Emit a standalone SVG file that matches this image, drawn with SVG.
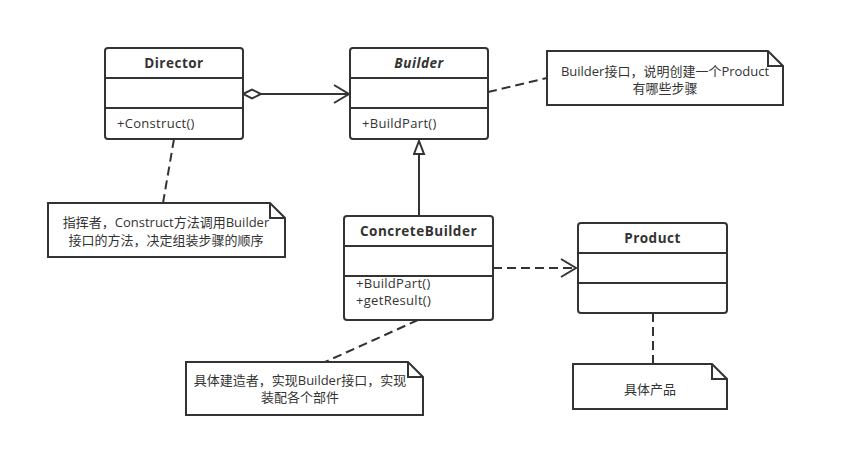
<svg xmlns="http://www.w3.org/2000/svg" width="846" height="476" viewBox="0 0 846 476">
<defs>
<style>
.box{fill:#fff;stroke:#333;stroke-width:2}
.div{stroke:#333;stroke-width:2;fill:none}
.note{fill:#fff;stroke:#333;stroke-width:2;stroke-linejoin:miter}
.title{font-family:"Open Sans","Noto Sans CJK SC",sans-serif;font-size:13.5px;font-weight:bold;letter-spacing:0.5px;fill:#333;text-anchor:middle}
.mth{font-family:"Open Sans","Noto Sans CJK SC",sans-serif;font-size:13px;letter-spacing:0.3px;fill:#333}
.nt{font-family:"Open Sans","Noto Sans CJK SC",sans-serif;font-size:13px;fill:#333;text-anchor:middle}
.ln{stroke:#333;stroke-width:2;fill:none}
.dash{stroke:#333;stroke-width:2;fill:none;stroke-dasharray:9 5}
</style>
<marker id="open" markerUnits="userSpaceOnUse" markerWidth="20" markerHeight="24" refX="16" refY="10" orient="auto">
<path d="M1,1 L16,10 L1,19" fill="none" stroke="#333" stroke-width="2"/>
</marker>
<marker id="diamond" markerUnits="userSpaceOnUse" markerWidth="22" markerHeight="12" refX="1" refY="6" orient="auto">
<path d="M1,6 L10,1.5 L19,6 L10,10.5 Z" fill="#fff" stroke="#333" stroke-width="2"/>
</marker>
<marker id="tri" markerUnits="userSpaceOnUse" markerWidth="18" markerHeight="14" refX="15" refY="6" orient="auto">
<path d="M2,1 L15,6 L2,11 Z" fill="#fff" stroke="#333" stroke-width="2"/>
</marker>
</defs>
<rect width="846" height="476" fill="#fff"/>

<g id="connectors">
<line class="ln" x1="243" y1="94" x2="349" y2="94" marker-start="url(#diamond)" marker-end="url(#open)"/>
<line class="ln" x1="419" y1="216" x2="419" y2="141" marker-end="url(#tri)"/>
<line class="dash" x1="493" y1="268" x2="576" y2="268" marker-end="url(#open)"/>
<line class="dash" x1="488" y1="92" x2="547" y2="78"/>
<line class="dash" x1="174" y1="139" x2="163" y2="203"/>
<line class="dash" x1="418" y1="320" x2="325" y2="362"/>
<line class="dash" x1="653" y1="313" x2="653" y2="364"/>
</g>

<g id="director">
<rect class="box" x="105" y="48" width="138" height="91" rx="3"/>
<line class="div" x1="105" y1="78" x2="243" y2="78"/>
<line class="div" x1="105" y1="108" x2="243" y2="108"/>
<text class="title" x="174" y="68">Director</text>
<text class="mth" x="117" y="128">+Construct()</text>
</g>

<g id="builder">
<rect class="box" x="350" y="48" width="138" height="91" rx="3"/>
<line class="div" x1="350" y1="78" x2="488" y2="78"/>
<line class="div" x1="350" y1="108" x2="488" y2="108"/>
<text class="title" x="419" y="68" font-style="italic">Builder</text>
<text class="mth" x="362" y="128">+BuildPart()</text>
</g>

<g id="concretebuilder">
<rect class="box" x="344" y="216" width="149" height="104" rx="3"/>
<line class="div" x1="344" y1="246" x2="493" y2="246"/>
<line class="div" x1="344" y1="276" x2="493" y2="276"/>
<text class="title" x="418.5" y="236">ConcreteBuilder</text>
<text class="mth" x="356" y="288">+BuildPart()</text>
<text class="mth" x="356" y="305">+getResult()</text>
</g>

<g id="product">
<rect class="box" x="578" y="223" width="149" height="90" rx="3"/>
<line class="div" x1="578" y1="253" x2="727" y2="253"/>
<line class="div" x1="578" y1="283" x2="727" y2="283"/>
<text class="title" x="652.5" y="243">Product</text>
</g>

<g id="note-builder">
<path class="note" d="M547,51 L768,51 L783,66 L783,105 L547,105 Z"/>
<path class="div" d="M768,51 L768,66 L783,66"/>
<text class="nt" x="665" y="76">Builder接口，说明创建一个Product</text>
<text class="nt" x="665" y="93">有哪些步骤</text>
</g>

<g id="note-director">
<path class="note" d="M48,203 L270,203 L285,218 L285,257 L48,257 Z"/>
<path class="div" d="M270,203 L270,218 L285,218"/>
<text class="nt" x="166" y="227">指挥者，Construct方法调用Builder</text>
<text class="nt" x="166" y="245">接口的方法，决定组装步骤的顺序</text>
</g>

<g id="note-concrete">
<path class="note" d="M186,362 L408,362 L423,377 L423,415 L186,415 Z"/>
<path class="div" d="M408,362 L408,377 L423,377"/>
<text class="nt" x="300" y="385">具体建造者，实现Builder接口，实现</text>
<text class="nt" x="300" y="402">装配各个部件</text>
</g>

<g id="note-product">
<path class="note" d="M573,364 L712,364 L727,379 L727,409 L573,409 Z"/>
<path class="div" d="M712,364 L712,379 L727,379"/>
<text class="nt" x="650" y="394">具体产品</text>
</g>
</svg>
